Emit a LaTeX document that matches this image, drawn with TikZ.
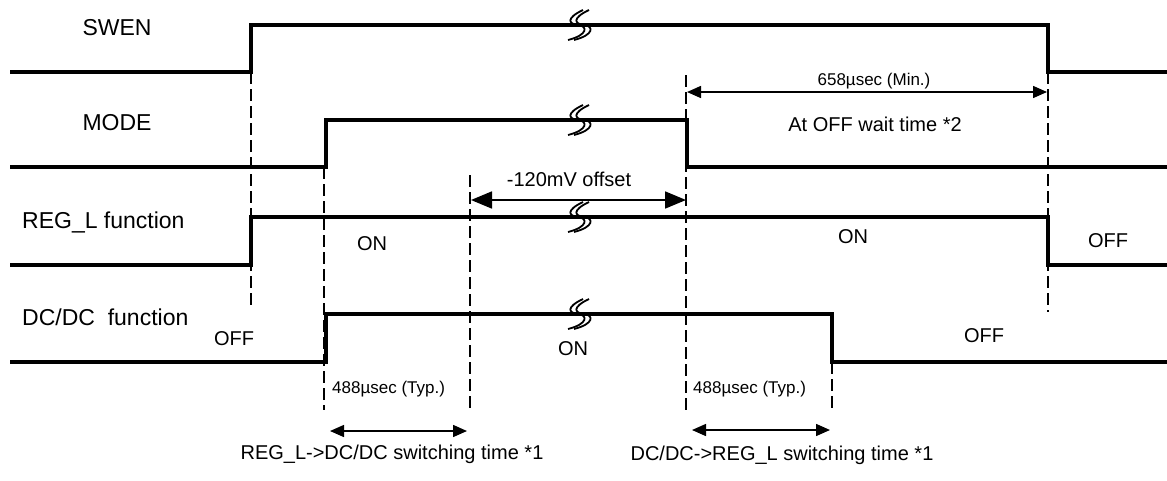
\documentclass[tikz,border=0pt]{standalone}
\usepackage{fontspec}
\setmainfont{Liberation Sans}
\usetikzlibrary{arrows.meta}
\begin{document}
\begin{tikzpicture}[x=1pt,y=-1pt,
  sig/.style={line width=3.6pt,line join=miter},
  guide/.style={line width=1.3pt,dash pattern=on 12pt off 5pt},
  dimarrow/.style={line width=1.5pt,{Triangle[length=14pt,width=12pt]}-{Triangle[length=14pt,width=12pt]}},
  bigarrow/.style={line width=1.8pt,{Triangle[length=21pt,width=17pt]}-{Triangle[length=21pt,width=17pt]}},
  lbl/.style={font=\fontsize{23}{27}\selectfont,inner sep=0pt},
  st/.style={font=\fontsize{20}{24}\selectfont,inner sep=0pt},
  smalltxt/.style={font=\fontsize{17}{20}\selectfont,inner sep=0pt},
  bot/.style={font=\fontsize{20}{24}\selectfont,inner sep=0pt},
  brk/.pic={
    \draw[line width=1.8pt] (5,-15) .. controls (-12,-7) and (-10,-1) .. (0,0) .. controls (10,1) and (10,10) .. (-10,15);
    \draw[line width=1.8pt] (11,-15) .. controls (-6,-7) and (-4,-1) .. (6,0) .. controls (16,1) and (16,10) .. (-4,15);
  }]
\useasboundingbox (0,0) rectangle (1167,480);
% signals
\draw[sig] (10,72) -- (251,72) -- (251,25) -- (1048,25) -- (1048,72) -- (1167,72);
\draw[sig] (10,167) -- (326,167) -- (326,120) -- (687,120) -- (687,167) -- (1167,167);
\draw[sig] (10,265) -- (251,265) -- (251,217) -- (1048,217) -- (1048,265) -- (1167,265);
\draw[sig] (10,362) -- (326,362) -- (326,314) -- (832,314) -- (832,362) -- (1167,362);
% break marks
\pic at (578,25) {brk};
\pic at (578,120) {brk};
\pic at (578,217) {brk};
\pic at (578,314) {brk};
% guide lines
\draw[guide] (251,72) -- (251,307);
\draw[guide] (324,167) -- (324,410);
\draw[guide] (470,175) -- (470,410);
\draw[guide] (686,75) -- (686,410);
\draw[guide] (832,362) -- (832,410);
\draw[guide] (1048,72) -- (1048,312);
% dimension coordinates
\coordinate (a1) at (687,92);
\coordinate (a2) at (1047,92);
\coordinate (b1) at (471,200);
\coordinate (b2) at (686,200);
\coordinate (c1) at (330,431);
\coordinate (c2) at (467,431);
\coordinate (d1) at (692,430);
\coordinate (d2) at (830,430);
\draw[dimarrow] (a1) -- (a2);
\draw[bigarrow] (b1) -- (b2);
\draw[dimarrow] (c1) -- (c2);
\draw[dimarrow] (d1) -- (d2);
% labels
\node[lbl,anchor=base] (swen) at (117,35) {SWEN};
\node[lbl,anchor=base] (mode) at (117,130) {MODE};
\node[lbl,anchor=base west] (regl) at (22,228) {REG\_L function};
\node[lbl,anchor=base west] (dcdc) at (22,325) {DC/DC\ \ function};
\node[st,anchor=base] (on1) at (372,250) {ON};
\node[st,anchor=base] (on2) at (853,243) {ON};
\node[st,anchor=base] (off1) at (1108,247) {OFF};
\node[st,anchor=base] (off2) at (234,345) {OFF};
\node[st,anchor=base] (on3) at (573,355) {ON};
\node[st,anchor=base] (off3) at (984,342) {OFF};
\node[smalltxt,anchor=base] (t658) at (874,85) {658µsec (Min.)};
\node[st,anchor=base] (wait) at (875,131) {At OFF wait time *2};
\node[st,anchor=base] (ofs) at (569,186) {-120mV offset};
\node[smalltxt,anchor=base west] (t488a) at (332,393) {488µsec (Typ.)};
\node[smalltxt,anchor=base west] (t488b) at (693,393) {488µsec (Typ.)};
\node[bot,anchor=base] (sw1) at (392,459) {REG\_L->DC/DC switching time *1};
\node[bot,anchor=base] (sw2) at (782,460) {DC/DC->REG\_L switching time *1};
\end{tikzpicture}
\end{document}
